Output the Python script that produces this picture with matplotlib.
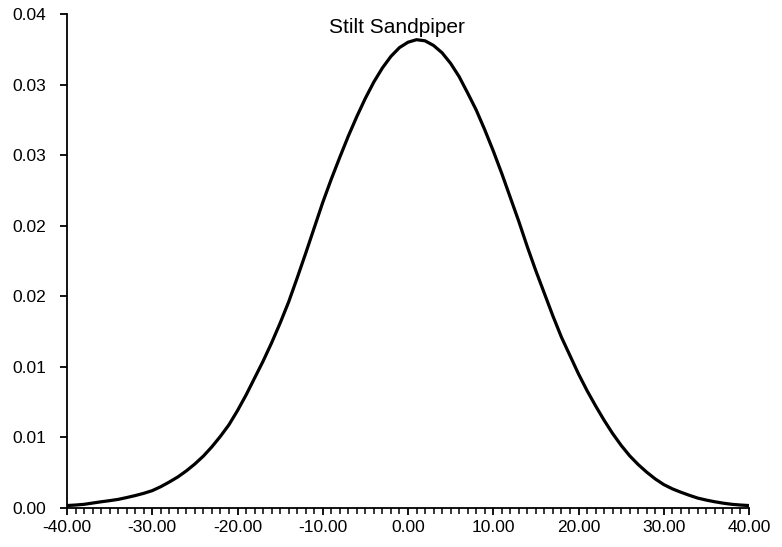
import matplotlib
matplotlib.use("Agg")
import matplotlib.pyplot as plt
from matplotlib.ticker import MultipleLocator

plt.rcParams['font.family'] = ['Liberation Sans', 'DejaVu Sans']

title = "Stilt Sandpiper"
x_values = list(range(-40, 41))
y_values = [0.000175, 0.00021, 0.00026, 0.00035, 0.00044, 0.00052, 0.00061, 0.00074,
            0.00088, 0.00104, 0.00123, 0.00151, 0.00184, 0.00220, 0.00263, 0.00312,
            0.00368, 0.00434, 0.00508, 0.00590, 0.00690, 0.00800, 0.00920, 0.01040,
            0.01170, 0.01310, 0.01460, 0.01630, 0.01805, 0.01985, 0.02165, 0.02330,
            0.02485, 0.02635, 0.02774, 0.02903, 0.03019, 0.03118, 0.03200, 0.03262,
            0.03300, 0.03318, 0.03310, 0.03277, 0.03225, 0.03150, 0.03056, 0.02940,
            0.02820, 0.02680, 0.02530, 0.02370, 0.02200, 0.02030, 0.01850, 0.01680,
            0.01520, 0.01360, 0.01210, 0.01080, 0.00950, 0.00832, 0.00724, 0.00622,
            0.00528, 0.00444, 0.00370, 0.00308, 0.00254, 0.00206, 0.00166, 0.00136,
            0.00112, 0.00090, 0.00070, 0.00056, 0.00044, 0.00034, 0.00026, 0.00021,
            0.000175]
x_ticks = [-40, -30, -20, -10, 0, 10, 20, 30, 40]
x_tick_labels = ["-40.00", "-30.00", "-20.00", "-10.00", "0.00", "10.00",
                 "20.00", "30.00", "40.00"]
y_ticks = [0.0, 0.005, 0.01, 0.015, 0.02, 0.025, 0.03, 0.035]
y_tick_labels = ["0.00", "0.01", "0.01", "0.02", "0.02", "0.03", "0.03", "0.04"]

fig = plt.figure(figsize=(7.82, 5.47), dpi=100)
ax = fig.add_axes([67/782, 1-508/547, (749-67)/782, (508-14)/547])
ax.plot(x_values, y_values, color='black', linewidth=2.3, solid_capstyle='round',
        solid_joinstyle='round')
ax.set_xlim(-40, 40)
ax.set_ylim(0, 0.035)
ax.set_xticks(x_ticks)
ax.set_xticklabels(x_tick_labels)
ax.set_yticks(y_ticks)
ax.set_yticklabels(y_tick_labels)
ax.xaxis.set_minor_locator(MultipleLocator(1))
for s in ['top', 'right']:
    ax.spines[s].set_visible(False)
for s in ['left', 'bottom']:
    ax.spines[s].set_linewidth(1.3)
    ax.spines[s].set_color('black')
ax.tick_params(axis='both', which='major', direction='out', length=5, width=1.3,
               labelsize=12.5, colors='black', pad=4)
ax.tick_params(axis='x', which='minor', direction='out', length=4, width=1.1)
ax.tick_params(axis='y', pad=10)
ax.set_title(title, fontsize=15, pad=0, x=(397-67)/(749-67), y=1-(33-14)/494,
             va='baseline')
fig.savefig("out.png", dpi=100)
